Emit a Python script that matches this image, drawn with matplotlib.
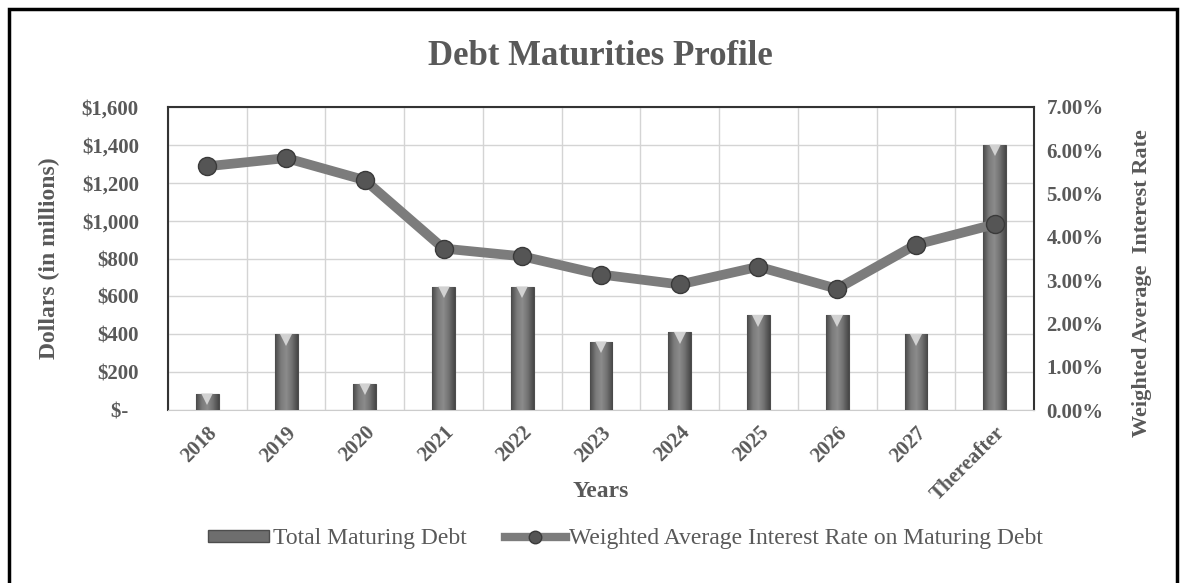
import numpy as np
import matplotlib.pyplot as plt
import matplotlib.transforms as mtransforms
from matplotlib.patches import Rectangle, Patch
from matplotlib.lines import Line2D
from matplotlib.colors import LinearSegmentedColormap

years = ["2018", "2019", "2020", "2021", "2022", "2023", "2024", "2025", "2026", "2027", "Thereafter"]
debt = [85, 400, 140, 650, 650, 360, 410, 500, 500, 400, 1400]
rate = [5.63, 5.82, 5.31, 3.73, 3.55, 3.13, 2.90, 3.31, 2.80, 3.82, 4.29]

left_ticks = [0, 200, 400, 600, 800, 1000, 1200, 1400, 1600]
left_labels = ["$-  ", "$200", "$400", "$600", "$800", "$1,000", "$1,200", "$1,400", "$1,600"]
right_ticks = [0, 1, 2, 3, 4, 5, 6, 7]
right_labels = ["0.00%", "1.00%", "2.00%", "3.00%", "4.00%", "5.00%", "6.00%", "7.00%"]

plt.rcParams['font.family'] = ['Liberation Serif', 'DejaVu Serif']
txt = '#595959'

fig = plt.figure(figsize=(11.85, 5.83), dpi=100)
ax = fig.add_axes([0.1418, 0.2967, 0.7308, 0.5198])
x = np.arange(len(years))

# bars on the left axis, shaded with a horizontal gradient to mimic the 3D look
bars = ax.bar(x, debt, width=0.29, color='#6e6e6e', edgecolor='#4d4d4d', linewidth=0.8, zorder=3)
shade = LinearSegmentedColormap.from_list('shade', ['#4a4a4a', '#7a7a7a', '#8c8c8c', '#707070', '#474747'])
grad = np.linspace(0, 1, 64).reshape(1, -1)
for b in bars:
    im = ax.imshow(grad, cmap=shade, aspect='auto', zorder=3.5,
                   extent=(b.get_x(), b.get_x() + b.get_width(), 0, b.get_height()))
    im.set_clip_path(b)
cap = mtransforms.offset_copy(ax.transData, fig=fig, x=0, y=-4, units='points')
ax.plot(x, debt, ls='none', marker='v', markersize=9, color='#e0e0e0', alpha=0.85,
        markeredgewidth=0, transform=cap, zorder=3.8)

ax.set_ylim(0, 1600)
ax.set_xlim(-0.5, len(years) - 0.5)
ax.set_yticks(left_ticks)
ax.set_yticklabels(left_labels, fontsize=15, fontweight='bold', color=txt)
ax.tick_params(axis='y', length=0, pad=21)
ax.set_xticks(x)
ax.set_xticklabels(years, rotation=45, ha='right', va='top', rotation_mode='anchor',
                   fontsize=15, fontweight='bold', color=txt)
ax.tick_params(axis='x', length=0, pad=9)
ax.set_xticks(np.arange(-0.5, len(years)), minor=True)
ax.tick_params(axis='x', which='minor', length=0)
ax.grid(True, axis='y', color='#d4d4d4', lw=1, zorder=0)
ax.grid(True, axis='x', which='minor', color='#d4d4d4', lw=1, zorder=0)
ax.set_axisbelow(True)
for s in ['top', 'left', 'right']:
    ax.spines[s].set_color('#333333')
    ax.spines[s].set_linewidth(1.5)
ax.spines['bottom'].set_color('#cccccc')

ax.set_ylabel("Dollars (in millions)", fontsize=17, fontweight='bold', color=txt)
ax.yaxis.set_label_coords(-0.125, 0.5)
ax.set_xlabel("Years", fontsize=17, fontweight='bold', color=txt)
ax.xaxis.set_label_coords(0.5, -0.235)

# interest rate line on the right axis
ax2 = ax.twinx()
ax2.plot(x, rate, color='#7c7c7c', lw=7, marker='o', markersize=13,
         markerfacecolor='#555555', markeredgecolor='#3a3a3a', markeredgewidth=1, zorder=4)
ax2.set_ylim(0, 7)
ax2.set_yticks(right_ticks)
ax2.set_yticklabels(right_labels, fontsize=15, fontweight='bold', color=txt)
ax2.tick_params(axis='y', length=0, pad=9)
for s in ax2.spines.values():
    s.set_visible(False)
ax2.set_ylabel("Weighted Average  Interest Rate", fontsize=16, fontweight='bold', color=txt)
ax2.yaxis.set_label_coords(1.113, 0.42)

fig.suptitle("Debt Maturities Profile", x=0.507, y=0.932, fontsize=25, fontweight='bold', color=txt)

handles = [Patch(facecolor='#6e6e6e', edgecolor='#4d4d4d'),
           Line2D([0], [0], color='#7c7c7c', lw=6, marker='o', markersize=9,
                  markerfacecolor='#555555', markeredgecolor='#3a3a3a')]
fig.legend(handles, ["Total Maturing Debt", "Weighted Average Interest Rate on Maturing Debt"],
           loc='center', bbox_to_anchor=(0.528, 0.076), ncol=2, frameon=False,
           fontsize=17, labelcolor=txt, handlelength=2.6, handleheight=0.4,
           handletextpad=0.15, columnspacing=1.6)

# outer frame
fig.patches.append(Rectangle((9 / 1185, -0.05), (1177 - 9) / 1185, 1 - 9 / 583 + 0.05,
                             transform=fig.transFigure, fill=False, edgecolor='black',
                             lw=2.5, clip_on=False))

fig.savefig("out.png", dpi=100)
